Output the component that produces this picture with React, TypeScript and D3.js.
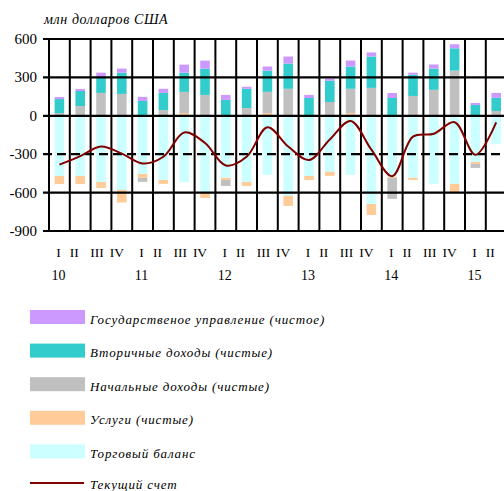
import React from "react";
import * as d3 from "d3";

// Quarters 2010 Q1 – 2015 Q2
const quarters = ["I", "II", "III", "IV", "I", "II", "III", "IV", "I", "II", "III", "IV", "I", "II", "III", "IV", "I", "II", "III", "IV", "I", "II"];
const years = ["10", "", "", "", "11", "", "", "", "12", "", "", "", "13", "", "", "", "14", "", "", "", "15", ""];

// Balance of payments components, mln USD
const tradeBalance = [-470, -470, -517, -579, -454, -501, -517, -595, -485, -517, -462, -626, -470, -438, -462, -689, -477, -485, -532, -532, -360, -219];
const services = [-63, -63, -47, -99, -31, -31, 21, -47, -16, -31, 21, -78, -31, -31, 21, -86, -8, -16, 0, -70, -16, 0];
const primaryIncome = [21, 76, 179, 171, -31, 45, 166, 163, -47, 61, 166, 211, 0, 108, 190, 218, -164, 155, 203, 353, -31, 37];
const secondaryIncome = [110, 118, 116, 166, 116, 134, 150, 205, 124, 150, 166, 197, 139, 166, 174, 245, 139, 166, 166, 174, 84, 103];
const government = [16, 16, 42, 32, 32, 32, 63, 63, 39, 16, 32, 55, 24, 16, 47, 32, 39, 16, 32, 32, 16, 39];
const currentAccount = [-382, -315, -240, -295, -372, -320, -130, -212, -388, -320, -90, -240, -345, -185, -40, -265, -472, -163, -140, -50, -305, -52];

const yTicks = [600, 300, 0, -300, -600, -900];

const seriesKeys = ["trade", "services", "primary", "secondary", "gov"];
const seriesColors: Record<string, string> = {
  trade: "#CCFFFF",
  services: "#FFCC99",
  primary: "#C0C0C0",
  secondary: "#33CCCC",
  gov: "#CC99FF",
};

const legendItems = [
  { key: "gov", label: "Государственое управление (чистое)" },
  { key: "secondary", label: "Вторичные доходы (чистые)" },
  { key: "primary", label: "Начальные доходы (чистые)" },
  { key: "services", label: "Услуги (чистые)" },
  { key: "trade", label: "Торговый баланс" },
];

const lineColor = "#800000";
const font = "'Liberation Serif', 'Times New Roman', serif";

// label nudges per quarter numeral
const quarterDx = [-1, -6, -4, -5];

export default function App() {
  const W = 504;
  const H = 491;
  const left = 49;
  const step = 20.8;
  const top = 39;
  const bottom = 231;

  const rows = quarters.map((q, i) => ({
    i,
    trade: tradeBalance[i],
    services: services[i],
    primary: primaryIncome[i],
    secondary: secondaryIncome[i],
    gov: government[i],
  }));

  const x = d3
    .scaleBand<number>()
    .domain(rows.map((r) => r.i))
    .range([left, left + step * rows.length])
    .padding(0);
  const y = d3.scaleLinear().domain([-900, 600]).range([bottom, top]);

  const stacked = d3
    .stack<any>()
    .keys(seriesKeys)
    .offset(d3.stackOffsetDiverging)(rows);

  const barW = x.bandwidth() * 0.46;
  const cx = (i: number) => (x(i) as number) + x.bandwidth() / 2;

  const line = d3
    .line<number>()
    .x((_, i) => cx(i))
    .y((v) => y(v))
    .curve(d3.curveCatmullRom.alpha(0.5));

  const gridRight = W + 10;

  return (
    <svg
      width={W}
      height={H}
      style={{ position: "absolute", left: 0, top: 0, background: "#fff" }}
      fontFamily={font}
    >
      <text x={44} y={24} fontSize={14} fontStyle="italic" letterSpacing={0.6} fill="#000">
        млн долларов США
      </text>

      {/* stacked bars */}
      {stacked.map((s) => (
        <g key={s.key} fill={seriesColors[s.key]}>
          {s.map((d, i) => {
            const y0 = y(d[0]);
            const y1 = y(d[1]);
            const h = Math.abs(y0 - y1);
            if (h < 0.01) return null;
            return (
              <rect
                key={i}
                x={cx(i) - barW / 2}
                y={Math.min(y0, y1)}
                width={barW}
                height={h}
              />
            );
          })}
        </g>
      ))}

      {/* vertical grid between quarters */}
      {rows.map((r) => (
        <line
          key={r.i}
          x1={x(r.i) as number}
          x2={x(r.i) as number}
          y1={y(600)}
          y2={y(-900)}
          stroke="#000"
          strokeWidth={2}
        />
      ))}

      {/* horizontal grid */}
      {yTicks.map((t) => (
        <line
          key={t}
          x1={43}
          x2={gridRight}
          y1={y(t)}
          y2={y(t)}
          stroke="#000"
          strokeWidth={2.2}
          strokeDasharray={t === -300 ? "9,5" : undefined}
        />
      ))}

      {/* y tick labels */}
      {yTicks.map((t) => (
        <text
          key={t}
          x={37}
          y={y(t)}
          dy="0.33em"
          textAnchor="end"
          fontSize={15}
          fill="#000"
        >
          {t}
        </text>
      ))}

      {/* current account */}
      <path
        d={line(currentAccount) || ""}
        fill="none"
        stroke={lineColor}
        strokeWidth={2}
      />

      {/* x labels */}
      {quarters.map((q, i) => (
        <text
          key={"q" + i}
          x={cx(i) + quarterDx[i % 4]}
          y={257}
          textAnchor="middle"
          fontSize={13.5}
          fill="#000"
        >
          {q}
        </text>
      ))}
      {years.map((yr, i) =>
        yr ? (
          <text
            key={"y" + i}
            x={cx(i) - 1}
            y={280}
            textAnchor="middle"
            fontSize={14}
            fill="#000"
          >
            {yr}
          </text>
        ) : null
      )}

      {/* legend */}
      {legendItems.map((it, k) => (
        <g key={it.key} transform={`translate(30, ${310 + k * 33.6})`}>
          <rect x={0} y={0} width={55} height={14} fill={seriesColors[it.key]} />
          <text
            x={60}
            y={13.5}
            fontSize={13}
            fontStyle="italic"
            letterSpacing={0.85}
            fill="#000"
          >
            {it.label}
          </text>
        </g>
      ))}
      <g transform="translate(30, 483)">
        <line x1={0} x2={54} y1={0} y2={0} stroke={lineColor} strokeWidth={2} />
        <text x={60} y={6} fontSize={13} fontStyle="italic" letterSpacing={0.85} fill="#000">
          Текущий счет
        </text>
      </g>
    </svg>
  );
}
